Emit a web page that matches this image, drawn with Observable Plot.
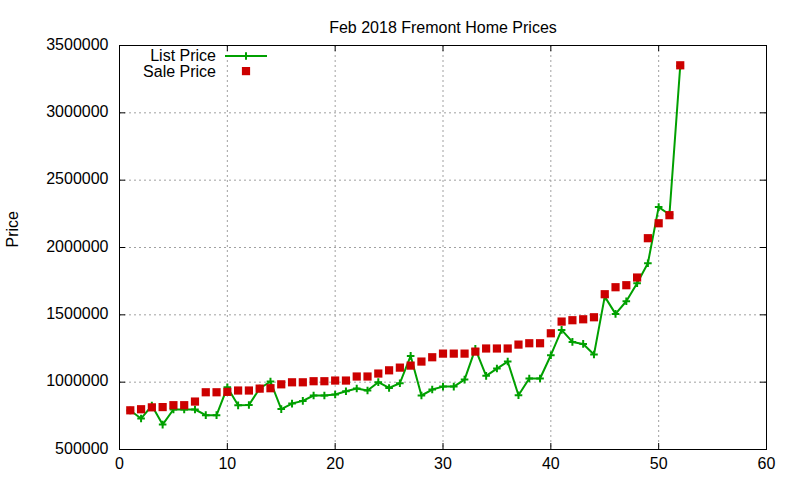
<!DOCTYPE html>
<html>
<head>
<meta charset="utf-8">
<script src="https://cdn.jsdelivr.net/npm/d3@7"></script>
<script src="https://cdn.jsdelivr.net/npm/@observablehq/plot@0.6"></script>
<style>
  body { margin: 0; background: #fff; }
  #wrap { position: relative; width: 800px; height: 480px; font-family: "Liberation Sans", Arial, sans-serif; }
  #legend { position: absolute; left: 0; top: 0; pointer-events: none; }
</style>
</head>
<body>
<div id="wrap"></div>
<script>
// Data (prices in dollars), listing index 1..52
const listPrice = [790000, 730000, 826000, 685000, 797000, 797000, 797000, 755000, 755000, 962000,
  828000, 830000, 953000, 1005000, 800000, 841000, 861000, 901000, 901000, 908000,
  933000, 953000, 938000, 1000000, 957000, 992000, 1195000, 901000, 945000, 967000,
  967000, 1019000, 1247000, 1047000, 1101000, 1153000, 903000, 1027000, 1027000, 1200000,
  1388000, 1299000, 1284000, 1205000, 1635000, 1507000, 1601000, 1735000, 1883000, 2300000,
  2245000, 3348000];
const salePrice = [791000, 799000, 813000, 815000, 829000, 829000, 856000, 925000, 925000, 928000,
  938000, 938000, 952000, 955000, 984000, 999000, 999000, 1007000, 1007000, 1012000,
  1012000, 1042000, 1042000, 1064000, 1088000, 1108000, 1123000, 1153000, 1185000, 1212000,
  1212000, 1212000, 1227000, 1250000, 1250000, 1250000, 1279000, 1289000, 1289000, 1363000,
  1450000, 1460000, 1467000, 1482000, 1653000, 1705000, 1720000, 1777000, 2069000, 2180000,
  2240000, 3353000];
const xTicks = [0, 10, 20, 30, 40, 50, 60];
const yTicks = [500000, 1000000, 1500000, 2000000, 2500000, 3000000, 3500000];
const titleText = "Feb 2018 Fremont Home Prices";
const yLabel = "Price";
const seriesNames = ["List Price", "Sale Price"];

const listData = listPrice.map((v, i) => ({x: i + 1, y: v}));
const saleData = salePrice.map((v, i) => ({x: i + 1, y: v}));

const W = 800, H = 480, mL = 119, mR = 34, mT = 45, mB = 31;
const plotW = W - mL - mR, plotH = H - mT - mB;
const green = "#00a000", red = "#cc0000";
const innerX = xTicks.slice(1, -1), innerY = yTicks.slice(1, -1);

// gnuplot-like "+" point: two strokes of half-length r
const plusSymbol = {
  draw(ctx, size) {
    const r = Math.sqrt(size / Math.PI);
    ctx.moveTo(-r, 0); ctx.lineTo(r, 0);
    ctx.moveTo(0, -r); ctx.lineTo(0, r);
  }
};
// filled square of side 2r
const squareSymbol = {
  draw(ctx, size) {
    const r = Math.sqrt(size / Math.PI);
    ctx.moveTo(-r, -r); ctx.lineTo(r, -r); ctx.lineTo(r, r); ctx.lineTo(-r, r); ctx.closePath();
  }
};

const chart = Plot.plot({
  width: W, height: H,
  marginLeft: mL, marginRight: mR, marginTop: mT, marginBottom: mB,
  style: {fontFamily: "'Liberation Sans', Arial, sans-serif", fontSize: "16px", background: "#fff", color: "#000", overflow: "visible"},
  x: {domain: [0, 60]},
  y: {domain: [500000, 3500000]},
  marks: [
    Plot.ruleX(innerX, {x: d => d, stroke: "#a0a0a0", strokeWidth: 1, strokeDasharray: "2,3"}),
    Plot.ruleY(innerY, {y: d => d, stroke: "#a0a0a0", strokeWidth: 1, strokeDasharray: "2,3"}),
    Plot.tickX(xTicks, {x: d => d, insetTop: plotH - 6, stroke: "#000"}),
    Plot.tickX(xTicks, {x: d => d, insetBottom: plotH - 6, stroke: "#000"}),
    Plot.tickY(yTicks, {y: d => d, insetRight: plotW - 6, stroke: "#000"}),
    Plot.tickY(yTicks, {y: d => d, insetLeft: plotW - 6, stroke: "#000"}),
    Plot.axisX({ticks: xTicks, tickSize: 0, tickPadding: 8, label: null, fontSize: 16}),
    Plot.axisY({ticks: yTicks, tickSize: 0, tickPadding: 11, label: null, tickFormat: d => String(d), fontSize: 16, dy: -1}),
    Plot.frame({stroke: "#000", strokeWidth: 1}),
    Plot.line(listData, {x: "x", y: "y", stroke: green, strokeWidth: 2}),
    Plot.dot(listData, {x: "x", y: "y", symbol: plusSymbol, stroke: green, fill: "none", strokeWidth: 2, r: 3.8}),
    Plot.dot(saleData, {x: "x", y: "y", symbol: squareSymbol, fill: red, stroke: "none", r: 4.1}),
    Plot.text([titleText], {text: d => d, frameAnchor: "top", dy: -23.5, fontSize: 16, fill: "#000"}),
    Plot.text([yLabel], {text: d => d, frameAnchor: "left", dx: -107, rotate: -90, fontSize: 16, fill: "#000"})
  ]
});
document.getElementById("wrap").appendChild(chart);

// Legend overlay (gnuplot style, top-left inside the plot)
const lg = d3.select("#wrap").append("svg")
  .attr("id", "legend").attr("width", W).attr("height", H)
  .style("font-family", "'Liberation Sans', Arial, sans-serif").style("font-size", "16px");
lg.append("text").attr("x", 216).attr("y", 55).attr("text-anchor", "end").attr("dominant-baseline", "central").text(seriesNames[0]);
lg.append("text").attr("x", 216).attr("y", 71).attr("text-anchor", "end").attr("dominant-baseline", "central").text(seriesNames[1]);
lg.append("line").attr("x1", 225).attr("x2", 267).attr("y1", 56).attr("y2", 56).attr("stroke", green).attr("stroke-width", 2);
lg.append("path").attr("d", "M242.2,56h7.6M246,52.2v7.6").attr("stroke", green).attr("stroke-width", 2);
lg.append("rect").attr("x", 241.9).attr("y", 67).attr("width", 8.2).attr("height", 8.2).attr("fill", red);
</script>
</body>
</html>
